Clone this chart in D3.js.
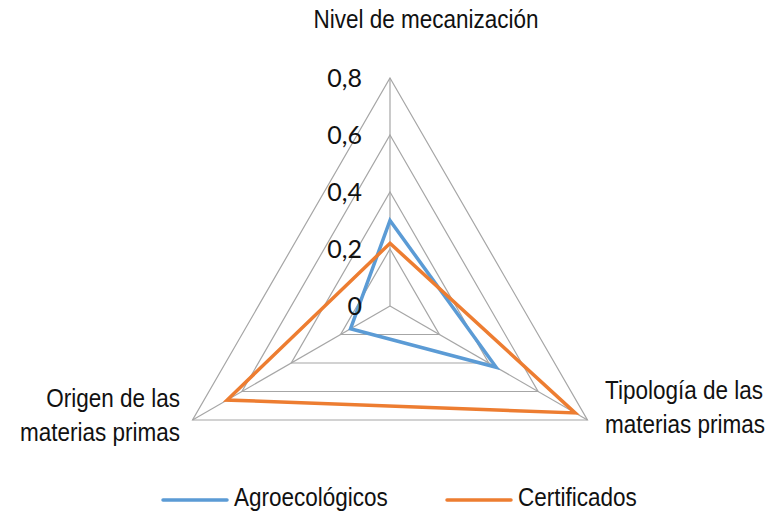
<!DOCTYPE html>
<html>
<head>
<meta charset="utf-8">
<script src="https://cdn.jsdelivr.net/npm/d3@7"></script>
<style>
  body { margin: 0; background: #fff; }
  .cat { font-family: "Liberation Sans", Arial, sans-serif; font-size: 25px; fill: #111; }
  .tick { font-family: Lato, "Open Sans", sans-serif; font-size: 25px; fill: #111; }
</style>
</head>
<body>
<script>
// ejes del radar
var categorias = ['Nivel de mecanización', 'Tipología de las materias primas', 'Origen de las materias primas'];
var agroecologicos = [0.30, 0.43, 0.16];
var certificados = [0.22, 0.75, 0.66];
var ticks = [0, 0.2, 0.4, 0.6, 0.8];
var tickLabels = ['0', '0,2', '0,4', '0,6', '0,8'];

var WIDTH = 765, HEIGHT = 514;
var CX = 390, CY = 306, R = 228;
var ESTRECHO = 0.9; // fuente condensada

var svg = d3.select('body').append('svg')
  .attr('width', WIDTH)
  .attr('height', HEIGHT);

var r = d3.scaleLinear().domain([0, 0.8]).range([0, R]);
var ang = d3.scaleLinear().domain([0, categorias.length]).range([0, 2 * Math.PI]);

function punto(v, i) {
  var a = ang(i);
  return [CX + r(v) * Math.sin(a), CY - r(v) * Math.cos(a)];
}

// anillos
svg.selectAll('polygon.ring')
  .data(ticks.slice(1))
  .enter().append('polygon')
  .attr('class', 'ring')
  .attr('points', function(t) {
    return categorias.map(function(c, i) { return punto(t, i).join(','); }).join(' ');
  })
  .attr('fill', 'none')
  .attr('stroke', '#a6a6a6')
  .attr('stroke-width', 1.2);

// radios
svg.selectAll('line.spoke')
  .data(categorias)
  .enter().append('line')
  .attr('x1', CX).attr('y1', CY)
  .attr('x2', function(c, i) { return punto(0.8, i)[0]; })
  .attr('y2', function(c, i) { return punto(0.8, i)[1]; })
  .attr('stroke', '#a6a6a6')
  .attr('stroke-width', 1.2);

// series
var series = [
  {nombre: 'Agroecológicos', valores: agroecologicos, color: '#5b9bd5'},
  {nombre: 'Certificados', valores: certificados, color: '#ed7d31'}
];

var linea = d3.line().curve(d3.curveLinearClosed);

svg.selectAll('path.serie')
  .data(series)
  .enter().append('path')
  .attr('d', function(s) { return linea(s.valores.map(punto)); })
  .attr('fill', 'none')
  .attr('stroke', function(s) { return s.color; })
  .attr('stroke-width', 3.5)
  .attr('stroke-linejoin', 'miter');

// etiquetas del eje
svg.selectAll('text.tick')
  .data(ticks)
  .enter().append('text')
  .attr('class', 'tick')
  .attr('x', 362)
  .attr('y', function(t) { return CY - r(t) + 9; })
  .attr('text-anchor', 'end')
  .text(function(t, i) { return tickLabels[i]; });

// texto condensado
function etiqueta(x, y, anchor, lineas) {
  var t = svg.append('text').attr('class', 'cat')
    .attr('transform', 'translate(' + x + ',' + y + ') scale(' + ESTRECHO + ',1)')
    .attr('text-anchor', anchor);
  lineas.forEach(function(l, i) {
    t.append('tspan').attr('x', 0).attr('dy', i ? 34 : 0).text(l);
  });
  return t;
}

etiqueta(426, 28, 'middle', [categorias[0]]);
etiqueta(605, 399, 'start', ['Tipología de las', 'materias primas']);
etiqueta(180, 407, 'end', ['Origen de las', 'materias primas']);

// leyenda
var leyX = [163, 447];
series.forEach(function(s, i) {
  svg.append('line')
    .attr('x1', leyX[i]).attr('x2', leyX[i] + 64).attr('y1', 500).attr('y2', 500)
    .attr('stroke', s.color)
    .attr('stroke-width', 3.5)
    .attr('stroke-linecap', 'round');
  etiqueta(leyX[i] + 71, 506, 'start', [s.nombre]);
});
</script>
</body>
</html>
